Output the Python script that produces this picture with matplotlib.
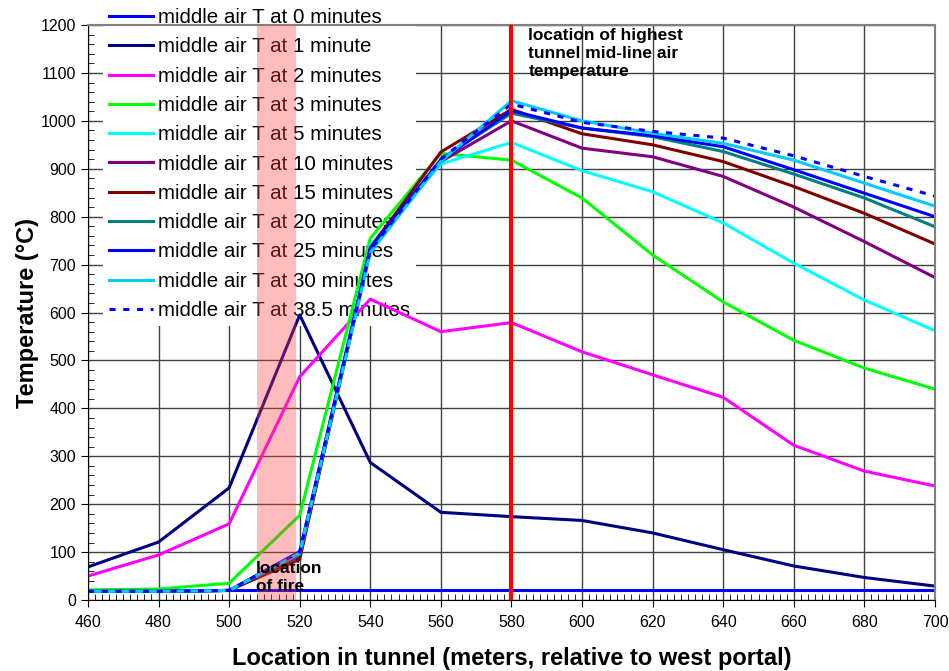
import numpy as np
import matplotlib
matplotlib.use("Agg")
import matplotlib.pyplot as plt
from matplotlib.ticker import MultipleLocator

plt.rcParams['font.family'] = ['Liberation Sans', 'DejaVu Sans']

# distance along tunnel (m) and mid-line air temperature (deg C) per time step
location = [460, 480, 500, 520, 540, 560, 580, 600, 620, 640, 660, 680, 700]

t0 = [20, 20, 20, 20, 20, 20, 20, 20, 20, 20, 20, 20, 20]
t1 = [69, 121, 234, 595, 287, 183, 174, 166, 140, 105, 71, 47, 29]
t2 = [50, 94, 159, 466, 628, 560, 579, 518, 470, 423, 323, 269, 238]
t3 = [21, 23, 35, 177, 755, 932, 918, 839, 720, 622, 542, 484, 440]
t5 = [18, 18, 20, 95, 740, 910, 955, 896, 852, 787, 703, 626, 562]
t10 = [18, 18, 20, 90, 730, 915, 1000, 943, 925, 884, 820, 748, 673]
t15 = [18, 18, 20, 85, 735, 935, 1024, 973, 950, 915, 863, 807, 743]
t20 = [18, 18, 20, 95, 730, 920, 1016, 985, 967, 936, 889, 839, 779]
t25 = [18, 18, 20, 101, 735, 918, 1021, 985, 969, 946, 898, 849, 800]
t30 = [18, 18, 20, 98, 725, 915, 1042, 1000, 974, 953, 918, 870, 822]
t38 = [18, 18, 20, 100, 730, 920, 1035, 997, 978, 964, 927, 884, 843]

series = [
    ("middle air T at 0 minutes", t0, "#0000FF", "-"),
    ("middle air T at 1 minute", t1, "#000080", "-"),
    ("middle air T at 2 minutes", t2, "#FF00FF", "-"),
    ("middle air T at 3 minutes", t3, "#00FF00", "-"),
    ("middle air T at 5 minutes", t5, "#00FFFF", "-"),
    ("middle air T at 10 minutes", t10, "#800080", "-"),
    ("middle air T at 15 minutes", t15, "#800000", "-"),
    ("middle air T at 20 minutes", t20, "#008080", "-"),
    ("middle air T at 25 minutes", t25, "#0000FF", "-"),
    ("middle air T at 30 minutes", t30, "#00CCFF", "-"),
    ("middle air T at 38.5 minutes", t38, "#0000FF", "--"),
]

fire_start, fire_end = 508, 519
peak_location = 580

fig = plt.figure(figsize=(9.49, 6.71), dpi=100)
ax = fig.add_axes([0.0927, 0.1058, 0.8925, 0.8569])

for label, temps, color, ls in series:
    ax.plot(location, temps, color=color, linestyle=ls, linewidth=2.2,
            label=label, zorder=2,
            dashes=(2, 2.5) if ls == "--" else (None, None))

# fire zone band and peak-temperature marker sit above the curves
ax.axvspan(fire_start, fire_end, color="#FF4040", alpha=0.35, lw=0, zorder=3)
ax.axvline(peak_location, color="#FF0000", linewidth=3, zorder=4)

ax.set_xlim(460, 700)
ax.set_ylim(0, 1200)
ax.xaxis.set_major_locator(MultipleLocator(20))
ax.xaxis.set_minor_locator(MultipleLocator(2))
ax.yaxis.set_major_locator(MultipleLocator(100))
ax.yaxis.set_minor_locator(MultipleLocator(20))
ax.tick_params(axis="both", which="major", labelsize=11.5, direction="out",
               length=5, color="black")
ax.tick_params(axis="x", which="major", pad=6)
ax.tick_params(axis="both", which="minor", direction="in", length=4)

ax.set_axisbelow(True)
ax.grid(True, which="major", color="#404040", linewidth=1)
for side in ["top", "right"]:
    ax.spines[side].set_color("#808080")
    ax.spines[side].set_linewidth(1.5)

ax.set_xlabel("Location in tunnel (meters, relative to west portal)",
              fontsize=17, fontweight="bold", labelpad=12)
ax.set_ylabel("Temperature (\u00b0C)", fontsize=17, fontweight="bold",
              labelpad=1.5)

ax.text(584.8, 1193, "location of highest\ntunnel mid-line air\ntemperature",
        fontsize=12.5, fontweight="bold", va="top", ha="left",
        linespacing=1.25, zorder=5)
ax.text(507.6, 81, "location\nof fire", fontsize=12.5, fontweight="bold",
        va="top", ha="left", linespacing=1.25, zorder=5)

# legend hides the grid but stays under the curves
leg = ax.legend(loc="upper left", bbox_to_anchor=(0.018, 1.04), fontsize=14.8,
                frameon=True, facecolor="white", edgecolor="none",
                framealpha=1, fancybox=False, handlelength=2.1,
                handletextpad=0.25, labelspacing=0.5, borderpad=0.3,
                borderaxespad=0.0)
leg.set_zorder(1.5)

fig.savefig("out.png", dpi=100)
